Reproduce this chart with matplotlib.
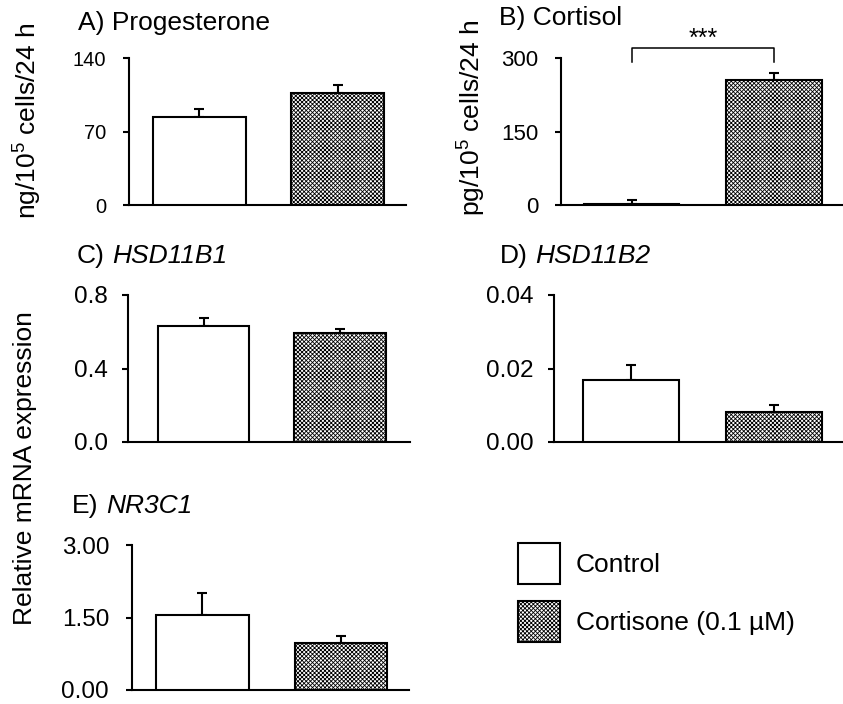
import matplotlib
matplotlib.use("Agg")
import matplotlib.pyplot as plt
import numpy as np

plt.rcParams['font.family'] = ['Liberation Sans', 'DejaVu Sans']
plt.rcParams['mathtext.fontset'] = 'custom'
plt.rcParams['mathtext.rm'] = 'Liberation Sans'
plt.rcParams['mathtext.it'] = 'Liberation Sans:italic'
plt.rcParams['hatch.linewidth'] = 0.6

# ---------------- data ----------------
groups = ["Control", "Cortisone (0.1 µM)"]

prog_mean = [84, 107]
prog_err = [7.5, 7.5]
prog_ticks = [0, 70, 140]

cort_mean = [2, 256]
cort_err = [8, 14]
cort_ticks = [0, 150, 300]

hsd1_mean = [0.630, 0.593]
hsd1_err = [0.046, 0.022]
hsd1_ticks = [0.0, 0.4, 0.8]

hsd2_mean = [0.0170, 0.0082]
hsd2_err = [0.0040, 0.0020]
hsd2_ticks = [0.00, 0.02, 0.04]

nr3c1_mean = [1.55, 0.97]
nr3c1_err = [0.46, 0.15]
nr3c1_ticks = [0.00, 1.50, 3.00]

sig_label = "***"

# ---------------- layout ----------------
W, H = 843, 704
fig = plt.figure(figsize=(W / 100, H / 100), dpi=100)
HATCH = 'xxxxxxxx'


def px_axes(left, right, top, bottom):
    return fig.add_axes([left / W, 1 - bottom / H, (right - left) / W, (bottom - top) / H])


def panel(ax, means, errs, ticks, fmt, xlim, tsize, pad):
    x = np.arange(len(means))
    b1 = ax.bar(x[0], means[0], width=0.67, facecolor='white', edgecolor='black',
                linewidth=1.5, zorder=3)
    b2 = ax.bar(x[1], means[1], width=0.67, facecolor='white', edgecolor='black',
                linewidth=1.5, hatch=HATCH, zorder=3)
    ax.errorbar(x, means, yerr=[np.zeros(len(errs)), errs], fmt='none', ecolor='black',
                elinewidth=1.5, capsize=3.6, capthick=1.5, zorder=2)
    ax.set_xlim(*xlim)
    ax.set_ylim(ticks[0], ticks[-1])
    ax.set_yticks(ticks)
    ax.set_yticklabels([fmt.format(t) for t in ticks], fontsize=tsize)
    ax.set_xticks([])
    for s in ['top', 'right']:
        ax.spines[s].set_visible(False)
    for s in ['left', 'bottom']:
        ax.spines[s].set_linewidth(1.5)
    ax.tick_params(axis='y', length=4.5, width=1.5, pad=pad)
    return b1, b2


axA = px_axes(129, 406, 58, 205)
bA1, bA2 = panel(axA, prog_mean, prog_err, prog_ticks, "{:.0f}", (-0.507, 1.493), 14.5, 12)

axB = px_axes(561, 843, 58, 205)
panel(axB, cort_mean, cort_err, cort_ticks, "{:.0f}", (-0.495, 1.484), 16, 12)

axC = px_axes(128, 410, 295, 442)
panel(axC, hsd1_mean, hsd1_err, hsd1_ticks, "{:.1f}", (-0.554, 1.511), 17.5, 10)

axD = px_axes(554, 843, 295, 442)
panel(axD, hsd2_mean, hsd2_err, hsd2_ticks, "{:.2f}", (-0.537, 1.481), 17.5, 10)

axE = px_axes(132, 409, 545, 690)
panel(axE, nr3c1_mean, nr3c1_err, nr3c1_ticks, "{:.2f}", (-0.509, 1.491), 17.5, 12)

# significance bracket on cortisol
top = cort_ticks[-1] * 1.07
leg = cort_ticks[-1] * 0.975
axB.plot([0, 0, 1, 1], [leg, top, top, leg], color='black', lw=1.1, clip_on=False)
axB.text(0.5, cort_ticks[-1] * 1.085, sig_label, ha='center', va='baseline',
         fontsize=18)

# titles
tsz = 19
renderer = fig.canvas.get_renderer()


def title(x, y, prefix, italic=None):
    t = fig.text(x / W, 1 - y / H, prefix, fontsize=tsz, va='baseline')
    if italic:
        bb = t.get_window_extent(renderer)
        fig.text((bb.x1 + 0.278 * tsz * 100 / 72) / W, 1 - y / H, italic,
                 fontsize=tsz, va='baseline', style='italic')


title(78, 30, "A) Progesterone")
title(499, 25, "B) Cortisol")
title(77, 263, "C)", "HSD11B1")
title(500, 263, "D)", "HSD11B2")
title(72, 513, "E)", "NR3C1")

# y labels
fig.text(28 / W, 1 - 121 / H, r"ng/10$^{5}$ cells/24 h", rotation=90, fontsize=tsz,
         ha='center', va='center')
fig.text(472 / W, 1 - 118 / H, r"pg/10$^{5}$ cells/24 h", rotation=90, fontsize=tsz,
         ha='center', va='center')
fig.text(25 / W, 1 - 468 / H, "Relative mRNA expression", rotation=90, fontsize=tsz,
         ha='center', va='center')

# legend
fig.legend([bA1, bA2], groups, loc='upper left', bbox_to_anchor=(518 / W, 1 - 543 / H),
           frameon=False, fontsize=tsz, handlelength=1.59, handleheight=2.0,
           handletextpad=0.6, labelspacing=0.65, borderpad=0, borderaxespad=0)

fig.savefig("out.png", dpi=100)
